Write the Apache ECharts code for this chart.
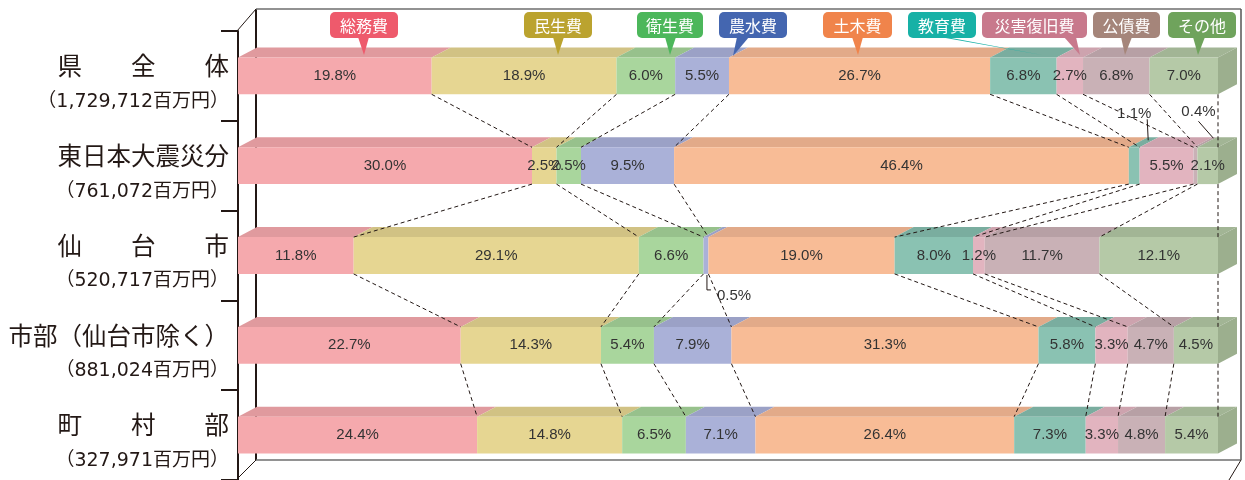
<!DOCTYPE html>
<html>
<head>
<meta charset="utf-8">
<script src="https://cdn.jsdelivr.net/npm/echarts@6/dist/echarts.min.js"></script>
<style>
html,body{margin:0;padding:0;background:#fff;}
#main{width:1245px;height:480px;}
</style>
</head>
<body>
<div id="main"></div>
<script>
// ---------------- DATA ----------------
const rows = ['県　　全　　体', '東日本大震災分', '仙　　台　　市', '市部（仙台市除く）', '町　　村　　部'];
const totals = ['（1,729,712百万円）', '（761,072百万円）', '（520,717百万円）', '（881,024百万円）', '（327,971百万円）'];
const categories = ['総務費', '民生費', '衛生費', '農水費', '土木費', '教育費', '災害復旧費', '公債費', 'その他'];
const somu   = [19.8, 30.0, 11.8, 22.7, 24.4];
const minsei = [18.9,  2.5, 29.1, 14.3, 14.8];
const eisei  = [ 6.0,  2.5,  6.6,  5.4,  6.5];
const nosui  = [ 5.5,  9.5,  0.5,  7.9,  7.1];
const doboku = [26.7, 46.4, 19.0, 31.3, 26.4];
const kyoiku = [ 6.8,  1.1,  8.0,  5.8,  7.3];
const saigai = [ 2.7,  5.5,  1.2,  3.3,  3.3];
const kosai  = [ 6.8,  0.4, 11.7,  4.7,  4.8];
const sonota = [ 7.0,  2.1, 12.1,  4.5,  5.4];

// ---------------- STYLE / LAYOUT ----------------
const frontColors = ['#F5A9AD', '#E6D692', '#A9D69D', '#AAB1D8', '#F8BC96', '#8AC2B2', '#E2B4BF', '#C9B1B6', '#B5C9A7'];
const topColors   = ['#E09A9E', '#D1C284', '#97C18C', '#9BA1C6', '#E2AA89', '#7AAD9F', '#CDA3AE', '#B7A0A5', '#A2B595'];
const sideColor = '#9CAF8E';
const boxColors = ['#EE5A6C', '#BBA32F', '#4CB75B', '#4466B0', '#F0844B', '#17B1A6', '#C8798C', '#A5857A', '#6FA35C'];
const DEPTH_X = 19, DEPTH_Y = 10, BAR_RATIO = 0.41;
const LABEL_FONT = '15px "Liberation Sans", Arial, sans-serif';
const INK = '#231815';

// legend boxes: center x, width, tail polygon (annotation layout)
const legendLayout = [
  {cx: 364,  w: 68,  tail: [[358,37],[369,37],[364,55]]},
  {cx: 558,  w: 68,  tail: [[553,37],[564,37],[558,55]]},
  {cx: 670,  w: 66,  tail: [[665,37],[676,37],[670,55]]},
  {cx: 753,  w: 68,  tail: [[737,37],[749,37],[733,56]]},
  {cx: 857.5,w: 69,  tail: [[852,37],[863,37],[858,55]]},
  {cx: 942,  w: 68,  tail: [[940,37],[946,37],[1042,55]]},
  {cx: 1034.5,w: 105,tail: [[1064,37],[1076,37],[1080,55]]},
  {cx: 1126.5,w: 67, tail: [[1121,37],[1132,37],[1125,55]]},
  {cx: 1202, w: 68,  tail: [[1193,37],[1205,37],[1198,55]]}
];
// callout labels for thin segments (row, category, offsets relative to segment)
const callouts = [
  {row: 1, cat: 5, ref: 'top', text: [0, -33], align: 'center', line: [[13,-28],[14,-7]]},
  {row: 1, cat: 7, ref: 'top', text: [3, -35], align: 'center', line: [[3,-26],[18,-9]]},
  {row: 2, cat: 3, ref: 'bottom', text: [11, 22], align: 'left', line: [[1,1],[1,16],[5,16]]}
];

// ---------------- BUILD ----------------
const matrix = [somu, minsei, eisei, nosui, doboku, kyoiku, saigai, kosai, sonota];
const nCat = categories.length;
const cums = rows.map((_, r) => {
  const vals = matrix.map(a => a[r]);
  const sum = vals.reduce((s, v) => s + v, 0);
  const c = [0];
  vals.forEach(v => c.push(c[c.length - 1] + v / sum * 100));
  return c;
});
const barData = rows.map((_, r) => [r].concat(cums[r], matrix.map(a => a[r])));
const connData = [];
for (let r = 0; r < rows.length - 1; r++) {
  connData.push([r].concat(cums[r].slice(1), cums[r + 1].slice(1)));
}

function geom(api, r) {
  const band = api.size([0, 1])[1];
  const bh = band * BAR_RATIO;
  const cy = api.coord([0, r])[1];
  return {cy: cy, yT: cy - bh / 2, yB: cy + bh / 2, bh: bh};
}

function renderBars(params, api) {
  const r = api.value(0);
  const g = geom(api, r);
  const children = [];
  const labels = [];
  for (let k = 0; k < nCat; k++) {
    const x0 = api.coord([api.value(1 + k), r])[0];
    const x1 = api.coord([api.value(2 + k), r])[0];
    const v = api.value(11 + k);
    children.push({type: 'polygon', shape: {points: [[x0, g.yT], [x1, g.yT], [x1 + DEPTH_X, g.yT - DEPTH_Y], [x0 + DEPTH_X, g.yT - DEPTH_Y]]},
      style: {fill: topColors[k]}});
    children.push({type: 'rect', shape: {x: x0, y: g.yT, width: x1 - x0, height: g.bh}, style: {fill: frontColors[k]}});
    if (k === nCat - 1) {
      children.push({type: 'polygon', shape: {points: [[x1, g.yT], [x1 + DEPTH_X, g.yT - DEPTH_Y], [x1 + DEPTH_X, g.yB - DEPTH_Y], [x1, g.yB]]},
        style: {fill: sideColor}});
    }
    const txt = v.toFixed(1) + '%';
    const cx = (x0 + x1) / 2;
    const co = callouts.find(c => c.row === r && c.cat === k);
    if (co) {
      const by = co.ref === 'top' ? g.yT : g.yB;
      labels.push({type: 'polyline', shape: {points: co.line.map(p => [cx + p[0], by + p[1]])},
        style: {stroke: INK, lineWidth: 1, fill: null}});
      labels.push({type: 'text', x: cx + co.text[0], y: by + co.text[1],
        style: {text: txt, font: LABEL_FONT, fill: '#333', align: co.align, verticalAlign: 'middle'}});
    } else {
      labels.push({type: 'text', x: cx, y: g.cy,
        style: {text: txt, font: LABEL_FONT, fill: '#333', align: 'center', verticalAlign: 'middle'}});
    }
  }
  return {type: 'group', children: children.concat(labels)};
}

function renderConn(params, api) {
  const r = api.value(0);
  const g1 = geom(api, r);
  const g2 = geom(api, r + 1);
  const children = [];
  for (let k = 0; k < nCat; k++) {
    const xa = api.coord([api.value(1 + k), r])[0];
    const xb = api.coord([api.value(1 + nCat + k), r + 1])[0];
    children.push({type: 'line', shape: {x1: xa, y1: g1.yB, x2: xb, y2: g2.yT},
      style: {stroke: INK, lineWidth: 1, lineDash: [4, 3]}});
  }
  return {type: 'group', children: children};
}

// frame decoration (3D box)
const frameStyle = (c, w) => ({stroke: c, lineWidth: w});
const frame = [
  {type: 'line', shape: {x1: 256, y1: 9, x2: 256, y2: 460}, style: frameStyle(INK, 2), z: -10},
  {type: 'line', shape: {x1: 256, y1: 9, x2: 1241, y2: 9}, style: frameStyle('#6e6e6e', 1.5), z: -10},
  {type: 'line', shape: {x1: 1241, y1: 9, x2: 1241, y2: 460}, style: frameStyle('#555', 1.5), z: -10},
  {type: 'line', shape: {x1: 256, y1: 460, x2: 1241, y2: 460}, style: frameStyle('#6e6e6e', 1.5), z: -10},
  {type: 'line', shape: {x1: 237, y1: 31, x2: 256, y2: 9}, style: frameStyle(INK, 1), z: -10},
  {type: 'line', shape: {x1: 256, y1: 460, x2: 237, y2: 479}, style: frameStyle(INK, 1), z: -10},
  {type: 'line', shape: {x1: 1241, y1: 460, x2: 1229, y2: 480}, style: frameStyle(INK, 1), z: -10}
];
const legendGraphics = [];
categories.forEach((name, i) => {
  const L = legendLayout[i];
  legendGraphics.push({type: 'polygon', shape: {points: L.tail}, style: {fill: boxColors[i]}, z: 100});
  legendGraphics.push({type: 'rect', shape: {x: L.cx - L.w / 2, y: 12, width: L.w, height: 26, r: 5}, style: {fill: boxColors[i]}, z: 100});
  legendGraphics.push({type: 'text', x: L.cx, y: 25.5, style: {text: name, fill: '#fff', font: '16px "Noto Sans CJK JP"', align: 'center', verticalAlign: 'middle'}, z: 101});
});

const chart = echarts.init(document.getElementById('main'), null, {renderer: 'canvas'});
chart.setOption({
  animation: false,
  backgroundColor: '#fff',
  grid: {left: 238, right: 27, top: 31, height: 450},
  xAxis: {type: 'value', min: 0, max: 100, show: false},
  yAxis: {
    type: 'category', data: rows, inverse: true, offset: 1,
    axisLine: {show: true, lineStyle: {color: INK, width: 2}},
    axisTick: {show: true, length: 17, lineStyle: {color: INK, width: 2}},
    splitLine: {show: false},
    axisLabel: {
      margin: 8,
      padding: [16, 0, 0, 0],
      formatter: (v, i) => '{a|' + v + '}\n{b|' + totals[i] + '}',
      rich: {
        a: {fontSize: 24.5, fontFamily: '"Noto Sans CJK JP"', color: INK, lineHeight: 36, align: 'right'},
        b: {fontSize: 19, fontFamily: '"DejaVu Sans", "Noto Sans CJK JP"', color: INK, lineHeight: 36, align: 'right'}
      }
    }
  },
  graphic: {elements: frame.concat(legendGraphics)},
  series: [
    {type: 'custom', name: 'bars', renderItem: renderBars, data: barData, encode: {x: 1, y: 0}, z: 2},
    {type: 'custom', name: 'connectors', renderItem: renderConn, data: connData, encode: {x: 1, y: 0}, z: 3}
  ]
});
</script>
</body>
</html>
